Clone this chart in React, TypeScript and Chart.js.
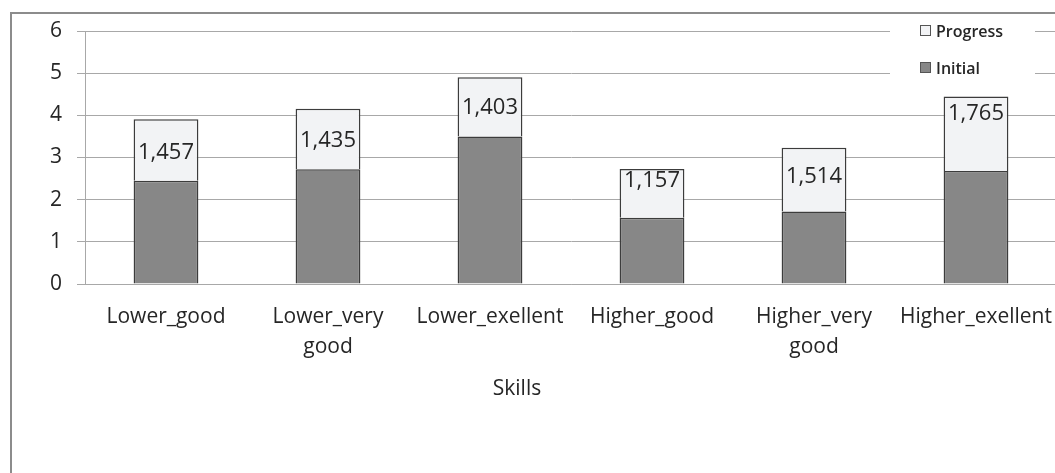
import React, { useEffect, useRef } from "react";
import { Chart, registerables } from "chart.js";

Chart.register(...registerables);

// Skill groups and measured scores
const categories: (string | string[])[] = [
  "Lower_good",
  ["Lower_very", "good"],
  "Lower_exellent",
  "Higher_good",
  ["Higher_very", "good"],
  "Higher_exellent",
];
const initialValues = [2.45, 2.72, 3.5, 1.57, 1.72, 2.68];
const progressValues = [1.457, 1.435, 1.403, 1.157, 1.514, 1.765];
const yTicks = [0, 1, 2, 3, 4, 5, 6];
const seriesNames = ["Initial", "Progress"];
const axisTitle = "Skills";

// vertical nudges (px) for the value labels inside the progress segments
const labelNudge = [3, 2, 1, -13, -3, -20];

const FONT = "'Open Sans', 'DejaVu Sans', sans-serif";
const INITIAL_FILL = "#878787";
const PROGRESS_FILL = "#f2f3f5";
const EDGE = "#3c3c3c";
const GRID = "#a8a8a8";
const TEXT = "#262626";

const CANVAS_W = 1075;
const CANVAS_H = 473;

const fmt = (v: number) => v.toFixed(3).replace(".", ",");

const decorations = {
  id: "decorations",
  afterDatasetsDraw(chart: any) {
    const ctx = chart.ctx as CanvasRenderingContext2D;
    // value labels on the progress segments
    const initMeta = chart.getDatasetMeta(0);
    const progMeta = chart.getDatasetMeta(1);
    ctx.save();
    ctx.font = `22px ${FONT}`;
    ctx.fillStyle = TEXT;
    ctx.textAlign = "center";
    ctx.textBaseline = "middle";
    progMeta.data.forEach((bar: any, i: number) => {
      const top = bar.y;
      const bottom = initMeta.data[i].y;
      const y = (top + bottom) / 2 + labelNudge[i];
      ctx.fillText(fmt(progressValues[i]), bar.x, y);
    });
    ctx.restore();

    // legend block
    ctx.save();
    ctx.fillStyle = "#ffffff";
    ctx.fillRect(890, 16, 145, 72);
    const entries = [
      { name: seriesNames[1], fill: PROGRESS_FILL, y: 31 },
      { name: seriesNames[0], fill: INITIAL_FILL, y: 68 },
    ];
    ctx.font = `600 16px ${FONT}`;
    ctx.textBaseline = "middle";
    ctx.textAlign = "left";
    entries.forEach((e) => {
      ctx.fillStyle = e.fill;
      ctx.fillRect(920.5, e.y - 5.5, 10, 10);
      ctx.strokeStyle = "#555555";
      ctx.lineWidth = 1;
      ctx.strokeRect(920.5, e.y - 5.5, 10, 10);
      ctx.fillStyle = TEXT;
      ctx.fillText(e.name, 936, e.y + 1);
    });
    ctx.restore();
  },
  afterDraw(chart: any) {
    const ctx = chart.ctx as CanvasRenderingContext2D;
    ctx.save();
    // axis title
    ctx.font = `21px ${FONT}`;
    ctx.fillStyle = TEXT;
    ctx.textAlign = "center";
    ctx.textBaseline = "middle";
    ctx.fillText(axisTitle, 517, 389);
    // chart frame
    ctx.strokeStyle = "#8c8c8c";
    ctx.lineWidth = 2;
    ctx.strokeRect(11, 13, CANVAS_W + 20, CANVAS_H + 20);
    ctx.restore();
  },
};

export default function App() {
  const canvasRef = useRef<HTMLCanvasElement | null>(null);

  useEffect(() => {
    const canvas = canvasRef.current;
    if (!canvas) return;
    const chart = new Chart(canvas, {
      type: "bar",
      data: {
        labels: categories,
        datasets: [
          {
            label: seriesNames[0],
            data: initialValues,
            backgroundColor: INITIAL_FILL,
            borderColor: EDGE,
            borderWidth: 1.5,
            borderSkipped: "start",
            inflateAmount: 0,
            barPercentage: 0.4,
            categoryPercentage: 1,
          },
          {
            label: seriesNames[1],
            data: progressValues,
            backgroundColor: PROGRESS_FILL,
            borderColor: EDGE,
            borderWidth: 1.5,
            borderSkipped: "start",
            inflateAmount: 0,
            barPercentage: 0.4,
            categoryPercentage: 1,
          },
        ],
      },
      options: {
        responsive: false,
        animation: false,
        devicePixelRatio: 1,
        layout: { padding: { left: 0, right: 18, top: 31, bottom: 0 } },
        plugins: {
          legend: { display: false },
          tooltip: { enabled: false },
          title: { display: false },
        },
        scales: {
          x: {
            stacked: true,
            grid: { display: false, drawTicks: false },
            border: { display: true, color: GRID, width: 1 },
            ticks: {
              color: TEXT,
              font: { family: FONT, size: 21, lineHeight: "30px" },
              padding: 18,
              maxRotation: 0,
              autoSkip: false,
            },
            afterFit(scale: any) {
              scale.height = 189;
            },
          },
          y: {
            stacked: true,
            min: 0,
            max: 6,
            afterBuildTicks(scale: any) {
              scale.ticks = yTicks.map((v) => ({ value: v }));
            },
            grid: {
              color: GRID,
              lineWidth: 1,
              drawTicks: true,
              tickLength: 8,
              tickColor: GRID,
            },
            border: { display: true, color: GRID, width: 1 },
            ticks: {
              color: TEXT,
              font: { family: FONT, size: 21 },
              padding: 15,
            },
            afterFit(scale: any) {
              scale.width = 85;
            },
          },
        },
      },
      plugins: [decorations],
    });
    return () => chart.destroy();
  }, []);

  return (
    <div
      style={{
        position: "fixed",
        left: 0,
        top: 0,
        width: 1055,
        height: 473,
        overflow: "hidden",
        background: "#ffffff",
      }}
    >
      <canvas
        ref={canvasRef}
        width={CANVAS_W}
        height={CANVAS_H}
        style={{ display: "block", width: CANVAS_W, height: CANVAS_H }}
      />
    </div>
  );
}
